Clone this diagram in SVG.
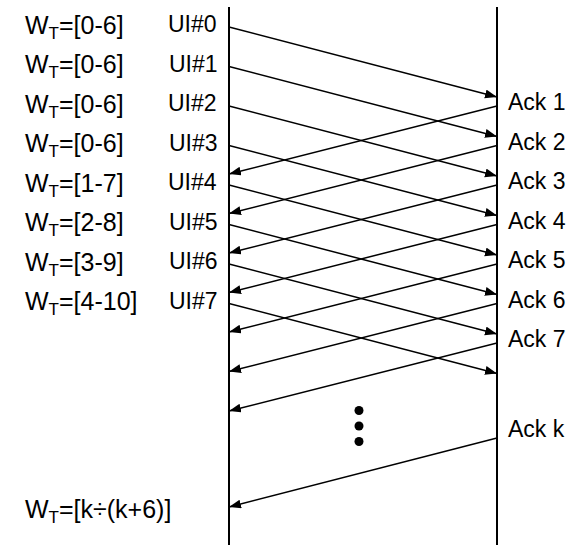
<svg xmlns="http://www.w3.org/2000/svg" width="570" height="547" viewBox="0 0 570 547">
<style>
text{font-family:"Liberation Sans",Arial,Helvetica,sans-serif;font-size:23px;fill:#000}
.w{font-size:25px}
.sub{font-size:17px}
.life{stroke:#000;stroke-width:2;fill:none}
.msg{stroke:#000;stroke-width:1.5;fill:none;marker-end:url(#ah)}
</style>
<defs>
<marker id="ah" markerUnits="userSpaceOnUse" markerWidth="13" markerHeight="10" refX="12" refY="4.5" orient="auto">
<path d="M0,0 L12,4.5 L0,9 z" fill="#000"/>
</marker>
</defs>
<g id="lifelines">
<line class="life" x1="229" y1="7" x2="229" y2="545"/>
<line class="life" x1="497" y1="7" x2="497" y2="545"/>
</g>
<g id="window-labels">
<text class="w" x="25" y="33.5">W<tspan class="sub" dy="5">T</tspan><tspan dy="-5">=[0-6]</tspan></text>
<text class="w" x="25" y="73">W<tspan class="sub" dy="5">T</tspan><tspan dy="-5">=[0-6]</tspan></text>
<text class="w" x="25" y="112.5">W<tspan class="sub" dy="5">T</tspan><tspan dy="-5">=[0-6]</tspan></text>
<text class="w" x="25" y="152">W<tspan class="sub" dy="5">T</tspan><tspan dy="-5">=[0-6]</tspan></text>
<text class="w" x="25" y="191.5">W<tspan class="sub" dy="5">T</tspan><tspan dy="-5">=[1-7]</tspan></text>
<text class="w" x="25" y="231">W<tspan class="sub" dy="5">T</tspan><tspan dy="-5">=[2-8]</tspan></text>
<text class="w" x="25" y="270.5">W<tspan class="sub" dy="5">T</tspan><tspan dy="-5">=[3-9]</tspan></text>
<text class="w" x="25" y="310">W<tspan class="sub" dy="5">T</tspan><tspan dy="-5">=[4-10]</tspan></text>
<text class="w" x="25" y="517.5">W<tspan class="sub" dy="5">T</tspan><tspan dy="-5">=[k÷(k+6)]</tspan></text>
</g>
<g id="ui-labels">
<text x="168" y="32">UI#0</text>
<text x="169" y="71.5">UI#1</text>
<text x="168" y="111">UI#2</text>
<text x="169" y="150.5">UI#3</text>
<text x="168" y="190">UI#4</text>
<text x="169" y="229.5">UI#5</text>
<text x="169" y="269">UI#6</text>
<text x="169" y="308.5">UI#7</text>
</g>
<g id="ack-labels">
<text x="508" y="110">Ack 1</text>
<text x="508" y="149.5">Ack 2</text>
<text x="508" y="189">Ack 3</text>
<text x="508" y="228.5">Ack 4</text>
<text x="508" y="268">Ack 5</text>
<text x="508" y="307.5">Ack 6</text>
<text x="508" y="347">Ack 7</text>
<text x="508" y="437">Ack k</text>
</g>
<g id="connectors">
<line class="msg" x1="229" y1="27" x2="497" y2="97"/>
<line class="msg" x1="229" y1="66.5" x2="497" y2="136.5"/>
<line class="msg" x1="229" y1="106" x2="497" y2="176"/>
<line class="msg" x1="229" y1="145.5" x2="497" y2="215.5"/>
<line class="msg" x1="229" y1="185" x2="497" y2="255"/>
<line class="msg" x1="229" y1="224.5" x2="497" y2="294.5"/>
<line class="msg" x1="229" y1="264" x2="497" y2="334"/>
<line class="msg" x1="229" y1="303.5" x2="497" y2="373.5"/>
<line class="msg" x1="497" y1="106" x2="229" y2="174"/>
<line class="msg" x1="497" y1="145.5" x2="229" y2="213.5"/>
<line class="msg" x1="497" y1="185" x2="229" y2="253"/>
<line class="msg" x1="497" y1="224.5" x2="229" y2="292.5"/>
<line class="msg" x1="497" y1="264" x2="229" y2="332"/>
<line class="msg" x1="497" y1="303.5" x2="229" y2="371.5"/>
<line class="msg" x1="497" y1="343" x2="229" y2="411"/>
<line class="msg" x1="497" y1="438" x2="229" y2="507"/>
</g>
<g id="ellipsis">
<circle cx="359" cy="410.5" r="4.5"/>
<circle cx="359" cy="426" r="4.5"/>
<circle cx="359" cy="441.5" r="4.5"/>
</g>
</svg>
